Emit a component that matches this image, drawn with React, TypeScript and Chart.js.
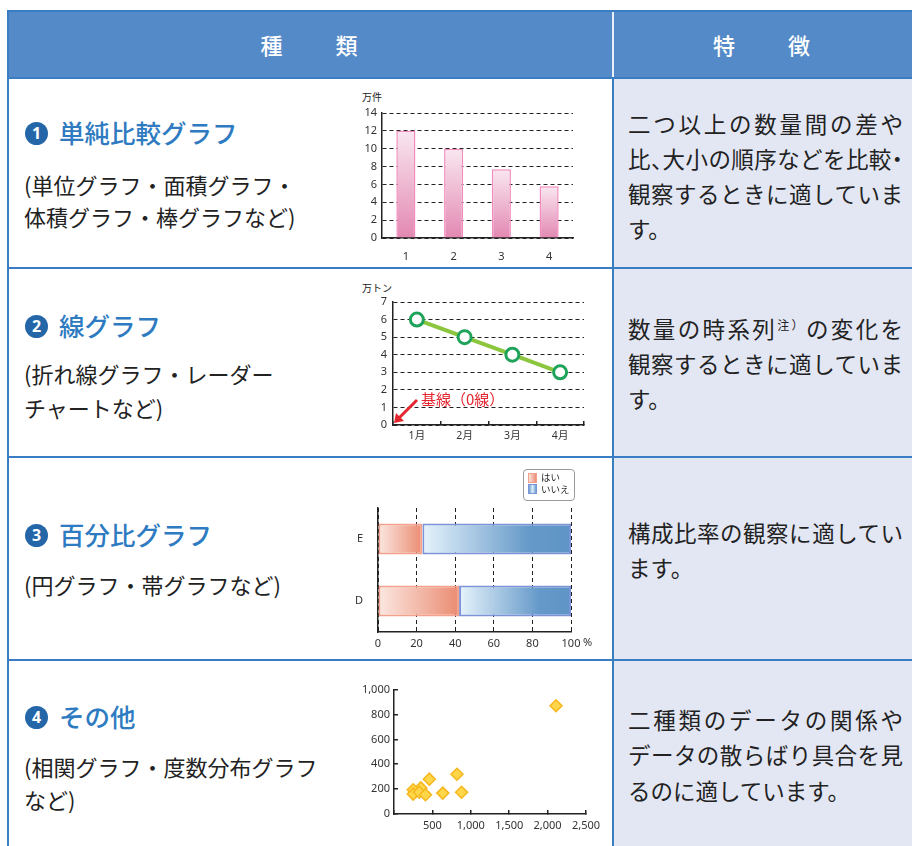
import React, { useEffect, useRef } from 'react';
import { Chart, registerables } from 'chart.js';

Chart.register(...registerables);

const FONT_JP = "'Noto Sans CJK JP', 'Noto Sans', sans-serif";
const FONT_NUM = "'Noto Sans', 'Noto Sans CJK JP', sans-serif";
Chart.defaults.font.family = FONT_NUM;
Chart.defaults.font.size = 11;
Chart.defaults.color = '#333';

// ---------- table text ----------
const headerCols = ['種　　類', '特　　徴'];
const rowBadges = ['1', '2', '3', '4'];
const rowTitles = ['単純比較グラフ', '線グラフ', '百分比グラフ', 'その他'];
const rowNotes = [
  ['(単位グラフ・面積グラフ・', '体積グラフ・棒グラフなど)'],
  ['(折れ線グラフ・レーダー', 'チャートなど)'],
  ['(円グラフ・帯グラフなど)'],
  ['(相関グラフ・度数分布グラフ', 'など)'],
];
const rowFeatures = [
  ['二つ以上の数量間の差や', '比、大小の順序などを比較・', '観察するときに適していま', 'す。'],
  ['数量の時系列注）の変化を', '観察するときに適していま', 'す。'],
  ['構成比率の観察に適してい', 'ます。'],
  ['二種類のデータの関係や', 'データの散らばり具合を見', 'るのに適しています。'],
];

// ---------- chart 1: bar ----------
const barCategories = ['1', '2', '3', '4'];
const barValues = [12, 10, 7.7, 5.8];
const barUnit = '万件';

// ---------- chart 2: line ----------
const lineCategories = ['1月', '2月', '3月', '4月'];
const lineValues = [6, 5, 4, 3];
const lineUnit = '万トン';
const baselineNote = '基線（0線）';

// ---------- chart 3: 100% stacked bar ----------
const pctCategories = ['E', 'D'];
const pctSeriesNames = ['はい', 'いいえ'];
const pctYes = [23, 42];
const pctNo = [77, 58];
const pctUnit = '%';

// ---------- chart 4: scatter ----------
const scatterX = [2110, 820, 460, 350, 250, 250, 330, 410, 635, 880];
const scatterY = [870, 320, 280, 210, 195, 160, 175, 155, 168, 175];

// ---------- layout constants ----------
const BORDER = '#3a7dc2';
const HEADER_BG = '#558ac8';
const LAV = '#e3e7f4';
const TITLE_BLUE = '#2e7bc1';
const BADGE_BLUE = '#2466a8';
const TEXT = '#222';

const titleY = [133, 326, 535, 717];
const notesY = [[185, 217], [374, 408], [585], [767, 800]];
const featY = [[124, 159, 194, 229], [329, 364, 399], [533, 568], [720, 755, 791]];

const AX = '#222';

const ok = (...v: number[]) => v.every((n) => Number.isFinite(n));

function pinkFill(c: any) {
  const y = c.chart.scales && c.chart.scales.y;
  if (!y || c.type !== 'data') return '#eeb4cf';
  const top = y.getPixelForValue(c.raw);
  const bot = y.getPixelForValue(0);
  if (!ok(top, bot) || top === bot) return '#eeb4cf';
  const g = c.chart.ctx.createLinearGradient(0, top, 0, bot);
  g.addColorStop(0, '#f9e7f0');
  g.addColorStop(1, '#e388b2');
  return g;
}

function pctFill(c: any) {
  const fb = c.datasetIndex === 0 ? '#f2b3a2' : '#8fb5da';
  const x = c.chart.scales && c.chart.scales.x;
  if (!x || c.type !== 'data') return fb;
  const i = c.dataIndex;
  if (c.datasetIndex === 0) {
    const a = x.getPixelForValue(0), b = x.getPixelForValue(pctYes[i]);
    if (!ok(a, b) || a === b) return fb;
    const g = c.chart.ctx.createLinearGradient(a, 0, b, 0);
    g.addColorStop(0, '#fbe8e2');
    g.addColorStop(1, '#eb8c72');
    return g;
  }
  const a = x.getPixelForValue(pctYes[i]), b = x.getPixelForValue(pctYes[i] + pctNo[i]);
  if (!ok(a, b) || a === b) return fb;
  const g = c.chart.ctx.createLinearGradient(a, 0, b, 0);
  g.addColorStop(0, '#e6f3fb');
  g.addColorStop(0.72, '#6599c9');
  g.addColorStop(1, '#5e95c6');
  return g;
}

const baselinePlugin = {
  id: 'baselineNote',
  afterDatasetsDraw(chart: any) {
    const { ctx, scales } = chart;
    const x0 = scales.x.left;
    const y0 = scales.y.getPixelForValue(0);
    ctx.save();
    ctx.strokeStyle = '#e3262d';
    ctx.fillStyle = '#e3262d';
    ctx.lineWidth = 3;
    const tipX = x0 + 1, tipY = y0 - 2;
    const tailX = x0 + 24, tailY = y0 - 25;
    ctx.beginPath();
    ctx.moveTo(tailX, tailY);
    ctx.lineTo(tipX + 5, tipY - 5);
    ctx.stroke();
    ctx.beginPath();
    ctx.moveTo(tipX, tipY);
    ctx.lineTo(tipX + 2, tipY - 10);
    ctx.lineTo(tipX + 10, tipY - 2);
    ctx.closePath();
    ctx.fill();
    ctx.font = "15px 'Noto Sans CJK JP'";
    ctx.textBaseline = 'middle';
    ctx.textAlign = 'left';
    ctx.fillText(baselineNote, x0 + 28, y0 - 26);
    ctx.restore();
  },
};

const percentPlugin = {
  id: 'percentUnit',
  afterDraw(chart: any) {
    const { ctx, scales } = chart;
    const x = scales.x;
    ctx.save();
    ctx.font = `11px ${FONT_NUM}`;
    ctx.fillStyle = '#333';
    ctx.textBaseline = 'middle';
    ctx.textAlign = 'left';
    ctx.fillText(pctUnit, x.getPixelForValue(100) + 12, x.top + 11);
    ctx.restore();
  },
};

const fmt = (v: any) => Number(v).toLocaleString('en-US');

function barConfig(): any {
  return {
    type: 'bar',
    data: {
      labels: barCategories,
      datasets: [
        {
          data: barValues,
          backgroundColor: pinkFill,
          borderColor: '#f28cbf',
          borderWidth: 1.5,
          barPercentage: 0.4,
          categoryPercentage: 1,
        },
      ],
    },
    options: {
      responsive: false,
      animation: false,
      layout: { padding: { top: 28, right: 12, left: 0, bottom: 0 } },
      plugins: { legend: { display: false }, tooltip: { enabled: false } },
      scales: {
        x: {
          grid: { display: false },
          border: { display: true, color: AX, width: 1.5 },
          ticks: { padding: 4 },
          afterFit: (s: any) => { s.height = 22; },
        },
        y: {
          min: 0,
          max: 14,
          ticks: { stepSize: 2, padding: 5 },
          grid: { color: AX, lineWidth: 1, drawTicks: false },
          border: { display: true, color: AX, width: 1.5, dash: [4, 3] },
          afterFit: (s: any) => { s.width = 27; },
        },
      },
    },
  };
}

function lineConfig(): any {
  return {
    type: 'line',
    data: {
      labels: lineCategories,
      datasets: [
        {
          data: lineValues,
          borderColor: '#8cc63e',
          borderWidth: 4,
          pointRadius: 6.5,
          pointBorderWidth: 3,
          pointBorderColor: '#1fa25a',
          pointBackgroundColor: '#ffffff',
          tension: 0,
        },
      ],
    },
    options: {
      responsive: false,
      animation: false,
      layout: { padding: { top: 22, right: 11, left: 0, bottom: 0 } },
      plugins: { legend: { display: false }, tooltip: { enabled: false } },
      scales: {
        x: {
          offset: true,
          grid: { display: true, offset: true, drawOnChartArea: false, drawTicks: true, tickLength: -4, color: AX, lineWidth: 1.5 },
          border: { display: true, color: AX, width: 1.5 },
          ticks: { padding: 9, font: { size: 10.5 } },
          afterFit: (s: any) => { s.height = 25; },
        },
        y: {
          min: 0,
          max: 7,
          ticks: { stepSize: 1, padding: 6 },
          grid: { color: AX, lineWidth: 1, drawTicks: false },
          border: { display: true, color: AX, width: 1.5, dash: [4, 3] },
          afterFit: (s: any) => { s.width = 38; },
        },
      },
    },
    plugins: [baselinePlugin],
  };
}

function pctConfig(): any {
  return {
    type: 'bar',
    data: {
      labels: pctCategories,
      datasets: [
        {
          label: pctSeriesNames[0],
          data: pctYes,
          backgroundColor: pctFill,
          borderColor: '#f3a18c',
          borderWidth: 2,
          borderSkipped: false,
          barPercentage: 0.5,
          categoryPercentage: 1,
        },
        {
          label: pctSeriesNames[1],
          data: pctNo,
          backgroundColor: pctFill,
          borderColor: '#7d93d8',
          borderWidth: 2,
          borderSkipped: false,
          barPercentage: 0.5,
          categoryPercentage: 1,
        },
      ],
    },
    options: {
      responsive: false,
      animation: false,
      indexAxis: 'y',
      layout: { padding: { top: 43, right: 24, left: 0, bottom: 0 } },
      plugins: { legend: { display: false }, tooltip: { enabled: false } },
      scales: {
        x: {
          stacked: true,
          min: 0,
          max: 100,
          ticks: { stepSize: 20, padding: 5 },
          grid: { color: AX, lineWidth: 1, drawTicks: false },
          border: { display: true, color: AX, width: 1.5, dash: [4, 3] },
          afterFit: (s: any) => { s.height = 23; },
        },
        y: {
          stacked: true,
          grid: { display: false },
          border: { display: true, color: AX, width: 1.5 },
          ticks: { padding: 7 },
          afterFit: (s: any) => { s.width = 23; },
        },
      },
    },
    plugins: [percentPlugin],
  };
}

function scatterConfig(): any {
  return {
    type: 'scatter',
    data: {
      datasets: [
        {
          data: scatterX.map((x, i) => ({ x, y: scatterY[i] })),
          pointStyle: 'rectRot',
          pointRadius: 6,
          backgroundColor: '#ffd64a',
          borderColor: '#f5b71c',
          borderWidth: 1.5,
        },
      ],
    },
    options: {
      responsive: false,
      animation: false,
      layout: { padding: { top: 14, right: 29, left: 0, bottom: 0 } },
      plugins: { legend: { display: false }, tooltip: { enabled: false } },
      scales: {
        x: {
          type: 'linear',
          min: 0,
          max: 2500,
          ticks: { stepSize: 500, padding: 9, callback: (v: any) => (v === 0 ? '' : fmt(v)) },
          grid: { display: true, drawOnChartArea: false, drawTicks: true, tickLength: -4, color: AX, lineWidth: 1.5 },
          border: { display: true, color: AX, width: 1.5 },
          afterFit: (s: any) => { s.height = 31; },
        },
        y: {
          min: 0,
          max: 1000,
          ticks: { stepSize: 200, padding: 8, callback: (v: any) => fmt(v) },
          grid: { display: true, drawOnChartArea: false, drawTicks: true, tickLength: -4, color: AX, lineWidth: 1.5 },
          border: { display: true, color: AX, width: 1.5 },
          afterFit: (s: any) => { s.width = 39; },
        },
      },
    },
  };
}

function ChartCanvas({ left, top, width, height, make }: any) {
  const ref = useRef<HTMLCanvasElement>(null);
  useEffect(() => {
    const chart = new Chart(ref.current as HTMLCanvasElement, make());
    return () => chart.destroy();
  }, []);
  return (
    <canvas
      ref={ref}
      width={width}
      height={height}
      style={{ position: 'absolute', left, top, width, height }}
    />
  );
}

function renderFeature(line: string) {
  const parts = line.split(/(、|・|注）)/);
  return parts.map((p, i) => {
    if (p === '、' || p === '・')
      return (
        <span key={i} style={{ fontFeatureSettings: '"halt"' }}>
          {p}
        </span>
      );
    if (p === '注）')
      return (
        <span key={i} style={{ fontSize: 12, position: 'relative', top: -8 }}>
          {p}
        </span>
      );
    return <React.Fragment key={i}>{p}</React.Fragment>;
  });
}

const box = (left: number, top: number, width: number, height: number, bg: string): any => (
  <div style={{ position: 'absolute', left, top, width, height, background: bg }} />
);

export default function App() {
  const featLH = 35;
  const featFS = 22.5;
  const noteLH = 32;
  const noteFS = 22;
  return (
    <div
      style={{
        position: 'fixed',
        left: 0,
        top: 0,
        width: 912,
        height: 846,
        background: '#fff',
        overflow: 'hidden',
        fontFamily: FONT_JP,
        color: TEXT,
      }}
    >
      {box(9, 10, 903, 68, HEADER_BG)}
      {box(614, 78, 298, 768, LAV)}
      {box(7, 10, 905, 2, BORDER)}
      {box(7, 10, 2, 836, BORDER)}
      {box(612, 12, 2, 65, '#e9eff8')}
      {box(612, 77, 2, 769, BORDER)}
      {[77, 267, 456, 659].map((y, i) => (
        <React.Fragment key={i}>{box(7, y, 905, 2, BORDER)}</React.Fragment>
      ))}

      {[
        [9, 603],
        [614, 298],
      ].map(([l, w], i) => (
        <div
          key={i}
          style={{
            position: 'absolute',
            left: l,
            top: 12,
            width: w,
            height: 65,
            display: 'flex',
            alignItems: 'center',
            justifyContent: 'center',
            color: '#fff',
            fontSize: 22,
            fontWeight: 500,
            letterSpacing: 3,
            lineHeight: '65px',
          }}
        >
          {headerCols[i]}
        </div>
      ))}

      {rowTitles.map((t, r) => (
        <React.Fragment key={r}>
          <div
            style={{
              position: 'absolute',
              left: 25,
              top: titleY[r] - 11.5,
              width: 23,
              height: 23,
              borderRadius: '50%',
              background: BADGE_BLUE,
              color: '#fff',
              fontFamily: FONT_NUM,
              fontWeight: 700,
              fontSize: 16,
              lineHeight: '23px',
              textAlign: 'center',
            }}
          >
            {rowBadges[r]}
          </div>
          <div
            style={{
              position: 'absolute',
              left: 59,
              top: titleY[r] - 20 - 1.5,
              height: 40,
              lineHeight: '40px',
              fontSize: 25.5,
              fontWeight: 500,
              color: TITLE_BLUE,
              whiteSpace: 'nowrap',
            }}
          >
            {t}
          </div>
          {rowNotes[r].map((n, k) => (
            <div
              key={k}
              style={{
                position: 'absolute',
                left: 24,
                top: notesY[r][k] - noteLH / 2 - 1,
                height: noteLH,
                lineHeight: `${noteLH}px`,
                fontSize: noteFS,
                whiteSpace: 'nowrap',
              }}
            >
              {n}
            </div>
          ))}
        </React.Fragment>
      ))}

      {rowFeatures.map((lines, r) => (
        <React.Fragment key={r}>
          {lines.map((ln, k) => {
            const last = k === lines.length - 1;
            return (
              <div
                key={k}
                style={{
                  position: 'absolute',
                  left: 628,
                  top: featY[r][k] - featLH / 2 - 1,
                  width: 275,
                  height: featLH,
                  lineHeight: `${featLH}px`,
                  fontSize: featFS,
                  textAlign: last ? 'left' : 'justify',
                  textAlignLast: last ? 'left' : 'justify',
                }}
              >
                {renderFeature(ln)}
              </div>
            );
          })}
        </React.Fragment>
      ))}

      <div style={{ position: 'absolute', left: 362, top: 90, fontSize: 10, lineHeight: '14px' }}>{barUnit}</div>
      <div style={{ position: 'absolute', left: 362, top: 281, fontSize: 10, lineHeight: '14px' }}>{lineUnit}</div>

      <ChartCanvas left={355} top={85} width={230} height={175} make={barConfig} />
      <ChartCanvas left={355} top={280} width={240} height={170} make={lineConfig} />
      <ChartCanvas left={355} top={465} width={240} height={190} make={pctConfig} />
      <ChartCanvas left={355} top={675} width={260} height={170} make={scatterConfig} />

      <div
        style={{
          position: 'absolute',
          left: 523,
          top: 469,
          width: 46,
          height: 28,
          border: '1.5px solid #9a9a9a',
          borderRadius: 4,
          background: '#fff',
          padding: '2px 0 0 4px',
          boxSizing: 'content-box',
        }}
      >
        {pctSeriesNames.map((n, i) => (
          <div key={i} style={{ display: 'flex', alignItems: 'center', height: 11.5, fontSize: 9.5, lineHeight: '11px' }}>
            <span
              style={{
                display: 'inline-block',
                width: 7,
                height: 8,
                marginRight: 4,
                border: `1px solid ${i === 0 ? '#f3a18c' : '#7d93d8'}`,
                background:
                  i === 0
                    ? 'linear-gradient(to right, #fbe3da, #ec8f78)'
                    : 'linear-gradient(to right, #6b9fd0, #dceefa, #6b9fd0)',
              }}
            />
            {n}
          </div>
        ))}
      </div>
    </div>
  );
}
